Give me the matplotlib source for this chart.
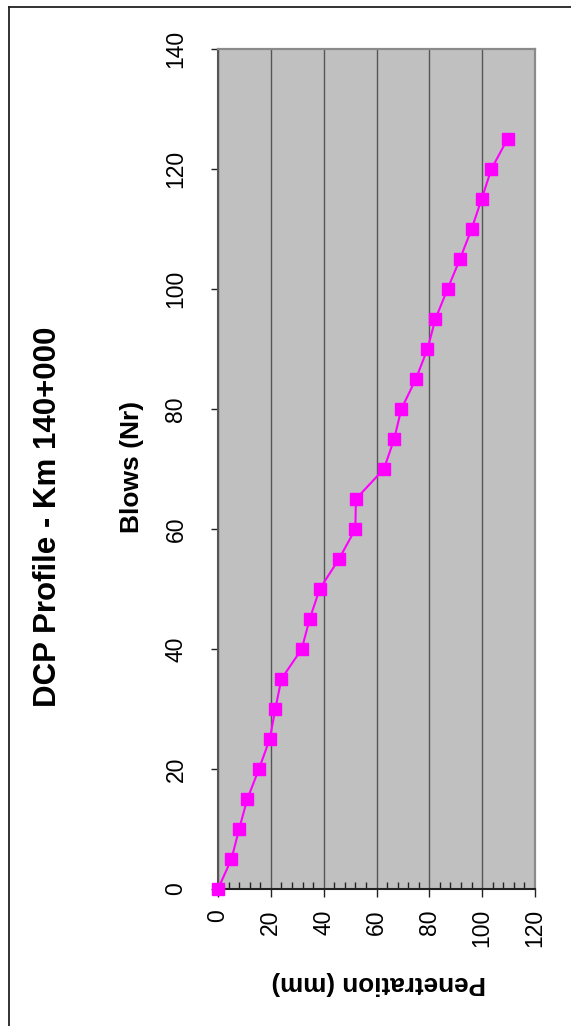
import matplotlib
matplotlib.use("Agg")
import matplotlib.pyplot as plt
from matplotlib.lines import Line2D
from matplotlib.ticker import MultipleLocator
from matplotlib import font_manager

_names = {f.name for f in font_manager.fontManager.ttflist}
_fam = next((n for n in ['Liberation Sans', 'Arimo', 'Arial'] if n in _names), 'DejaVu Sans')
plt.rcParams['font.family'] = [_fam, 'DejaVu Sans']

# Data: blows count vs cumulative penetration (mm)
blows = [0, 5, 10, 15, 20, 25, 30, 35, 40, 45, 50, 55, 60, 65,
         70, 75, 80, 85, 90, 95, 100, 105, 110, 115, 120, 125]
penetration = [0.0, 5.1, 8.0, 11.1, 15.5, 19.6, 21.7, 24.0, 31.7, 34.7,
               38.5, 45.8, 52.0, 52.2, 62.8, 66.7, 69.4, 74.9, 79.3, 82.3,
               86.9, 91.6, 96.0, 99.8, 103.5, 109.6]

title = "DCP Profile - Km 140+000"
blows_label = "Blows (Nr)"
pen_label = "Penetration (mm)"
pen_ticks = [0, 20, 40, 60, 80, 100, 120]
blow_ticks = [0, 20, 40, 60, 80, 100, 120, 140]

W, H = 571, 1026
fig = plt.figure(figsize=(W / 100, H / 100), dpi=100)

# plot area in pixels
x0, x1 = 218, 535
y0, y1 = 49, 889
ax = fig.add_axes([x0 / W, (H - y1) / H, (x1 - x0) / W, (y1 - y0) / H])
ax.set_facecolor('#C0C0C0')

ax.plot(penetration, blows, color='#FF00FF', lw=1.5, marker='s',
        markersize=8, markerfacecolor='#FF00FF', markeredgecolor='#FF00FF',
        zorder=5, clip_on=False)

ax.set_xlim(0, 120)
ax.set_ylim(0, 140)
ax.set_xticks(pen_ticks)
ax.set_yticks(blow_ticks)
ax.xaxis.set_minor_locator(MultipleLocator(4))

ax.grid(axis='x', which='major', color='#555555', lw=1.0)
ax.set_axisbelow(True)

for s in ['top', 'right']:
    ax.spines[s].set_color('#8A8A8A')
    ax.spines[s].set_linewidth(1.6)
ax.spines['left'].set_color('#555555')
ax.spines['left'].set_linewidth(1.5)
ax.spines['bottom'].set_color('#222222')
ax.spines['bottom'].set_linewidth(1.5)

ax.tick_params(axis='x', which='major', direction='out', length=6, width=1,
               color='#222222', pad=8.5, labelsize=16.5, labelrotation=90)
ax.tick_params(axis='x', which='minor', direction='in', length=5, width=1,
               color='#222222')
ax.tick_params(axis='y', which='major', direction='out', length=5, width=1,
               color='#222222', pad=17, labelsize=16.5, labelrotation=90)
for lab in ax.get_yticklabels():
    lab.set_va('center')
    lab.set_ha('right')
for lab in ax.get_xticklabels():
    lab.set_va('top')
    lab.set_ha('center')

ax.set_ylabel(blows_label, fontsize=19, fontweight='bold', rotation=90,
              va='center', ha='center')
ax.yaxis.set_label_coords((132 - x0) / (x1 - x0), (y1 - 467) / (y1 - y0))
ax.set_xlabel(pen_label, fontsize=18.8, fontweight='bold', rotation=180,
              va='center', ha='center')
ax.xaxis.set_label_coords((379 - x0) / (x1 - x0), (y1 - 983) / (y1 - y0))

fig.text(48 / W, 1 - 517 / H, title, fontsize=22.5, fontweight='bold',
         rotation=90, ha='center', va='center')

# outer chart border (left and top edges visible)
fig.add_artist(Line2D([9 / W, 9 / W], [0, 1 - 7 / H], transform=fig.transFigure,
                      color='#222222', lw=1.3))
fig.add_artist(Line2D([9 / W, 1], [1 - 7 / H, 1 - 7 / H], transform=fig.transFigure,
                      color='#222222', lw=1.3))

fig.savefig('out.png', dpi=100)
